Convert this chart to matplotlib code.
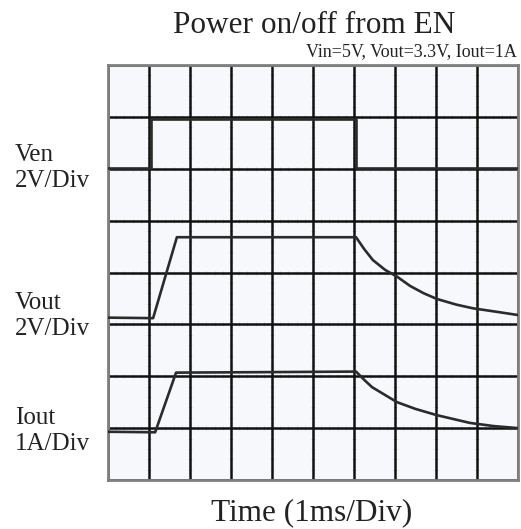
import matplotlib
matplotlib.use("Agg")
import matplotlib.pyplot as plt

# Time in divisions (1 ms/div), vertical position in divisions
ven_t = [0.0, 1.04, 1.04, 6.04, 6.04, 10.0]
ven_v = [6.02, 6.02, 6.96, 6.96, 6.02, 6.02]

vout_t = [0.0, 1.1, 1.68, 6.05, 6.25, 6.46, 6.76, 7.05, 7.37, 7.7, 8.02, 8.5, 8.9, 9.5, 10.0]
vout_v = [3.13, 3.12, 4.68, 4.68, 4.45, 4.24, 4.05, 3.92, 3.74, 3.6, 3.49, 3.38, 3.31, 3.24, 3.18]

iout_t = [0.0, 1.15, 1.66, 4.0, 6.05, 6.25, 6.44, 7.05, 7.5, 8.02, 8.83, 9.4, 10.0]
iout_v = [0.93, 0.92, 2.07, 2.08, 2.09, 1.93, 1.79, 1.5, 1.37, 1.25, 1.1, 1.04, 1.0]

labels = ["Ven\n2V/Div", "Vout\n2V/Div", "Iout\n1A/Div"]

fig = plt.figure(figsize=(5.21, 5.29), dpi=100)
ax = fig.add_axes([108/521, 1-480/529, 410/521, 415/529])
ax.set_facecolor("#f6f8fb")
ax.set_xlim(0, 10)
ax.set_ylim(0, 8)
ax.set_xticks(range(11))
ax.set_yticks(range(9))
ax.tick_params(length=0, labelbottom=False, labelleft=False)
ax.grid(True, color="#111111", lw=1.8, zorder=0.5)
ax.set_axisbelow(True)
for s in ax.spines.values():
    s.set_color("#808080")
    s.set_linewidth(2)

# faint minor division marks along grid lines (drawn beneath the grid)
for gx in range(1, 10):
    ax.plot([gx]*41, [i*0.2 for i in range(41)], ls="none", marker="_",
            ms=3.5, color="#d0d0d0", mew=0.7, zorder=0.3)
for gy in range(1, 8):
    ax.plot([i*0.2 for i in range(51)], [gy]*51, ls="none", marker="|",
            ms=3.5, color="#d0d0d0", mew=0.7, zorder=0.3)

trace_kw = dict(color="#2b2b2b", lw=1.9, solid_joinstyle="round", zorder=3)
ax.plot(ven_t, ven_v, **trace_kw)
ax.plot(vout_t, vout_v, **trace_kw)
ax.plot(iout_t, iout_v, **trace_kw)

serif = "Liberation Serif"
fig.text(314/521, 1-33/529, "Power on/off from EN", ha="center", va="baseline",
         family=serif, fontsize=22.5, color="#222222")
fig.text(517/521, 1-56/529, "Vin=5V, Vout=3.3V, Iout=1A", ha="right", va="baseline",
         family=serif, fontsize=13, color="#222222")
fig.text(312/521, 1-520/529, "Time (1ms/Div)", ha="center", va="baseline",
         family=serif, fontsize=22.5, color="#222222")
fig_label_px = [168, 316, 431]
for lab, py in zip(labels, fig_label_px):
    fig.text(15/521, 1-py/529, lab, ha="left", va="center", family=serif,
             fontsize=18, color="#222222", linespacing=1.2)

fig.savefig("out.png", dpi=100, facecolor="white")
